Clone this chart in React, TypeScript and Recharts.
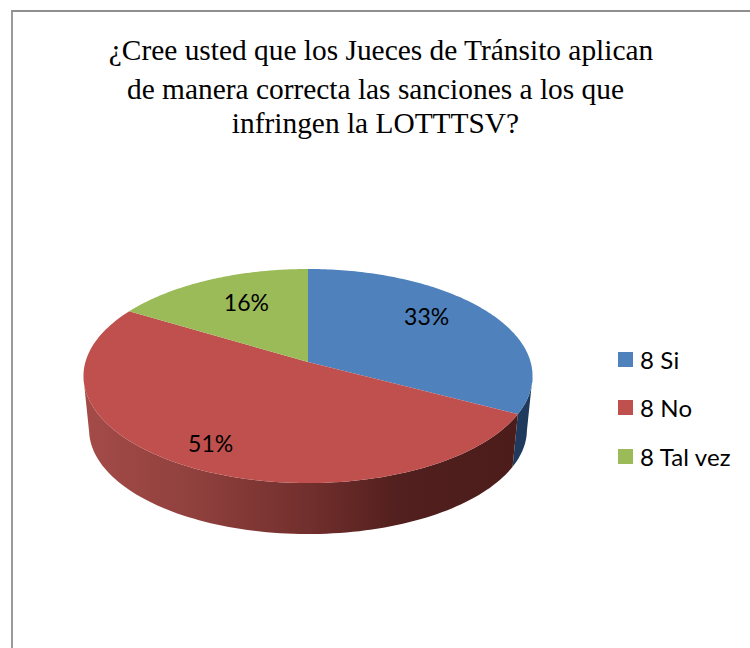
import { PieChart, Pie, Legend } from 'recharts';

const categories = ['8 Si', '8 No', '8 Tal vez'];
const shares = [32.7, 50.9, 16.4];
const topColors = ['#4f81bd', '#c0504d', '#9bbb59'];
const titleLines = [
  '¿Cree usted que los Jueces de Tránsito aplican',
  'de manera correcta las sanciones a los que',
  'infringen la LOTTTSV?',
];

const data = categories.map((name, i) => ({ name, value: shares[i], fill: topColors[i] }));

// look of the tilted disc
const TILT = 0.4726;
const PERSPECTIVE = 0.131;
const DEPTH = 54;
const BASE_SCALE = 0.975;
const FONT = 'Lato, sans-serif';

// where each percent sits on the disc: radius fraction + small nudge
const labelSpots = [
  { r: 0.65, dy: -12 },
  { r: 0.81, dy: -1 },
  { r: 0.6, dy: -9 },
];
const titleSpots = [
  { x: 381, y: 60 },
  { x: 375.5, y: 99 },
  { x: 375.5, y: 133 },
];

const project = (cx: number, cy: number, R: number, deg: number, r = 1, base = false) => {
  const a = (deg * Math.PI) / 180;
  const u = r * Math.cos(a);
  const v = r * Math.sin(a);
  const w = 1 + PERSPECTIVE * v;
  const s = base ? BASE_SCALE : 1;
  return {
    x: cx + (R * s * u) / w,
    y: cy + (base ? DEPTH : 0) - (R * TILT * s * v) / w,
    v,
  };
};

const toPath = (pts: { x: number; y: number }[]) =>
  pts.map((p, i) => `${i ? 'L' : 'M'}${p.x.toFixed(2)},${p.y.toFixed(2)}`).join(' ');

const wallStops: Record<string, [string, string][]> = {
  '#c0504d': [
    ['0', '#a44b48'],
    ['0.25', '#8f403d'],
    ['0.5', '#722f2d'],
    ['0.7', '#52201e'],
    ['1', '#4a1c1a'],
  ],
  '#4f81bd': [
    ['0', '#1f3a5c'],
    ['1', '#1f3a5c'],
  ],
  '#9bbb59': [
    ['0', '#4e5e2c'],
    ['1', '#4e5e2c'],
  ],
};

function DiscSlice(props: any) {
  const { cx, cy, outerRadius, startAngle, endAngle, fill, index } = props;
  const steps = 120;
  const angles: number[] = [];
  for (let i = 0; i <= steps; i++) angles.push(startAngle + ((endAngle - startAngle) * i) / steps);

  const rim = angles.map((d) => project(cx, cy, outerRadius, d));
  const top = toPath([{ x: cx, y: cy }, ...rim]) + ' Z';

  // only the part of the rim facing the viewer gets a wall
  const front = angles.filter((d) => project(cx, cy, outerRadius, d).v <= -PERSPECTIVE);
  const wall = [
    ...front.map((d) => project(cx, cy, outerRadius, d)),
    ...[...front].reverse().map((d) => project(cx, cy, outerRadius, d, 1, true)),
  ];
  const gradId = `wall-${index}`;

  return (
    <g>
      <defs>
        <linearGradient
          id={gradId}
          gradientUnits="userSpaceOnUse"
          x1={cx - outerRadius}
          x2={cx + outerRadius}
          y1={0}
          y2={0}
        >
          {wallStops[fill].map(([offset, color]) => (
            <stop key={offset} offset={offset} stopColor={color} />
          ))}
        </linearGradient>
      </defs>
      {front.length > 1 && <path d={toPath(wall) + ' Z'} fill={`url(#${gradId})`} />}
      <path d={top} fill={fill} />
    </g>
  );
}

function PercentLabel(props: any) {
  const { cx, cy, outerRadius, midAngle, percent, index } = props;
  const spot = labelSpots[index];
  const p = project(cx, cy, outerRadius, midAngle, spot.r);
  return (
    <text
      x={p.x}
      y={p.y + spot.dy}
      textAnchor="middle"
      dominantBaseline="central"
      fontFamily={FONT}
      fontSize={23}
      fill="#000"
    >
      {`${Math.round(percent * 100)}%`}
    </text>
  );
}

function LegendList({ payload }: any) {
  return (
    <div style={{ fontFamily: FONT, fontSize: 24, letterSpacing: 0.15, color: '#000' }}>
      {(payload || []).map((item: any) => (
        <div key={item.value} style={{ display: 'flex', alignItems: 'center', height: 48.5 }}>
          <span style={{ width: 15, height: 15, background: item.color, marginRight: 7 }} />
          <span style={{ whiteSpace: 'nowrap' }}>{item.value}</span>
        </div>
      ))}
    </div>
  );
}

export default function App() {
  return (
    <div style={{ position: 'absolute', left: 0, top: 0, width: 750, height: 648, background: '#fff' }}>
      <div
        style={{
          position: 'absolute',
          left: 11,
          top: 10,
          right: 0,
          bottom: 0,
          borderLeft: '2px solid #9a9a9a',
          borderTop: '2px solid #8f8f8f',
        }}
      />
      <PieChart width={750} height={648} margin={{ top: 0, right: 0, bottom: 0, left: 0 }} style={{ position: 'absolute', left: 0, top: 0 }}>
        {titleLines.map((line, i) => (
          <text
            key={line}
            x={titleSpots[i].x}
            y={titleSpots[i].y}
            textAnchor="middle"
            fontFamily='"Liberation Serif", serif'
            fontSize={29.4}
            fill="#000"
          >
            {line}
          </text>
        ))}
        <Pie
          data={data}
          dataKey="value"
          nameKey="name"
          cx={308}
          cy={362}
          outerRadius={222.6}
          startAngle={90}
          endAngle={-270}
          shape={DiscSlice}
          label={PercentLabel}
          labelLine={false}
          stroke="none"
          isAnimationActive={false}
        />
        <Legend
          layout="vertical"
          itemSorter={null}
          content={<LegendList />}
          wrapperStyle={{ position: 'absolute', left: 618, top: 335, width: 130 }}
        />
      </PieChart>
    </div>
  );
}
